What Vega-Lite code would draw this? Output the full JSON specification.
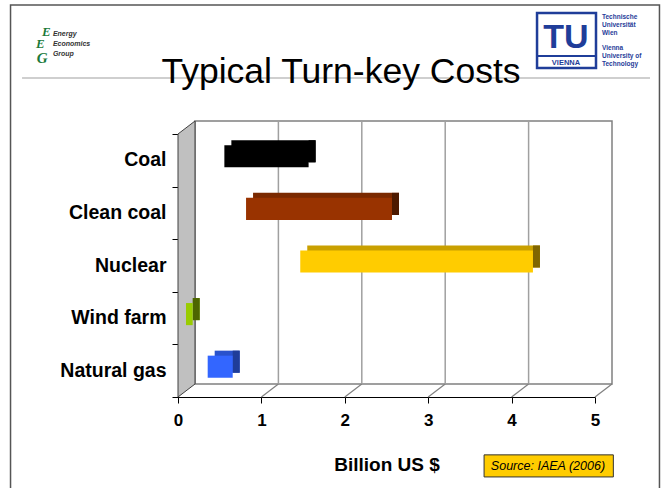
{
"$schema":"https://vega.github.io/schema/vega-lite/v6.json",
"width":417,"height":263,
"autosize":{"type":"none"},
"padding":{"left":178,"top":134,"right":71,"bottom":91},
"background":"white",
"config":{"view":{"stroke":null},"font":"Liberation Sans","axis":{"grid":false}},
"datasets":{
 "bars":[
   {"name":"Coal","lo":0.46,"hi":1.47},
   {"name":"Clean coal","lo":0.72,"hi":2.47},
   {"name":"Nuclear","lo":1.37,"hi":4.16},
   {"name":"Wind farm","lo":0,"hi":0.08},
   {"name":"Natural gas","lo":0.26,"hi":0.56}],
 "one":[{}]
},
"data":{"name":"one"},
"resolve":{"scale":{"y":"independent","color":"independent"},"axis":{"y":"independent"}},
"layer":[
  {"mark":{"type":"rect","fill":"white","stroke":"#808080","strokeWidth":1.5,"xOffset":17,"x2Offset":17,"yOffset":-13,"y2Offset":-13},
   "encoding":{
    "x":{"datum":0,"type":"quantitative","scale":{"domain":[0,5],"nice":false,"zero":false},
      "axis":{"values":[0,1,2,3,4,5],"format":"d","tickSize":6,"tickColor":"black","domainColor":"black","labelFontSize":17,"labelFontWeight":"bold","labelColor":"black","labelPadding":9,"labelFlush":false,"title":"Billion US $","titleFontSize":19,"titleFontWeight":"bold","titleColor":"black","titlePadding":27,"grid":false,"orient":"bottom"}},
    "x2":{"datum":5},
    "y":{"datum":0,"type":"quantitative","scale":{"domain":[0,5],"nice":false,"zero":false},"axis":null},
    "y2":{"datum":5}}},
  {"data":{"values":[{"x":0,"y":0,"y2":5},{"x":0.204,"y":0.247,"y2":5.247}]},
   "mark":{"type":"area","fill":"#c0c0c0","stroke":"#404040","strokeWidth":1},
   "encoding":{"x":{"field":"x","type":"quantitative","scale":{"domain":[0,5],"nice":false,"zero":false}},
    "y":{"field":"y","type":"quantitative","scale":{"domain":[0,5],"nice":false,"zero":false},
      "axis":{"orient":"left","values":[0,1,2,3,4,5],"labels":false,"tickSize":6,"tickColor":"black","domainColor":"black","title":null,"grid":false}},
    "y2":{"field":"y2"}}},
  {"data":{"values":[{"v":1},{"v":2},{"v":3},{"v":4}]},
   "mark":{"type":"rule","color":"#a0a0a0","strokeWidth":1.5,"xOffset":17,"yOffset":-13,"y2Offset":-13},
   "encoding":{"x":{"field":"v","type":"quantitative","scale":{"domain":[0,5],"nice":false,"zero":false}},
    "y":{"datum":0,"type":"quantitative","scale":{"domain":[0,5],"nice":false,"zero":false},"axis":null},
    "y2":{"datum":5}}},
  {"data":{"values":[{"v":1},{"v":2},{"v":3},{"v":4},{"v":5}]},
   "mark":{"type":"rule","color":"#808080","strokeWidth":1.2,"x2Offset":17,"y2Offset":-13},
   "encoding":{"x":{"field":"v","type":"quantitative","scale":{"domain":[0,5],"nice":false,"zero":false}},
    "x2":{"field":"v"},
    "y":{"datum":0,"type":"quantitative","scale":{"domain":[0,5],"nice":false,"zero":false},"axis":null},
    "y2":{"datum":0}}},
  {"mark":{"type":"rule","color":"#a0a0a0","strokeWidth":1.2},
   "encoding":{"x":{"datum":-1.87,"type":"quantitative","scale":{"domain":[0,5],"nice":false,"zero":false}},
    "x2":{"datum":5.66},
    "y":{"datum":6.065,"type":"quantitative","scale":{"domain":[0,5],"nice":false,"zero":false},"axis":null}}},
  {"mark":{"type":"rect","fillOpacity":0,"stroke":"#555555","strokeWidth":1.5},
   "encoding":{"x":{"datum":-2.008,"type":"quantitative","scale":{"domain":[0,5],"nice":false,"zero":false}},
    "x2":{"datum":5.773},
    "y":{"datum":7.452,"type":"quantitative","scale":{"domain":[0,5],"nice":false,"zero":false},"axis":null},
    "y2":{"datum":-1.9}}},
  {"mark":{"type":"text","text":"Typical Turn-key Costs","fontSize":35.5,"align":"center","baseline":"alphabetic","color":"black"},
   "encoding":{"x":{"datum":1.954,"type":"quantitative","scale":{"domain":[0,5],"nice":false,"zero":false}},
    "y":{"datum":5.97,"type":"quantitative","scale":{"domain":[0,5],"nice":false,"zero":false},"axis":null}}},
  {"mark":{"type":"rect","fill":"#ffcc00","stroke":"#333333","strokeWidth":1},
   "encoding":{"x":{"datum":3.67,"type":"quantitative","scale":{"domain":[0,5],"nice":false,"zero":false}},
    "x2":{"datum":5.22},
    "y":{"datum":-1.10,"type":"quantitative","scale":{"domain":[0,5],"nice":false,"zero":false},"axis":null},
    "y2":{"datum":-1.52}}},
  {"mark":{"type":"text","text":"Source: IAEA (2006)","fontSize":12.5,"fontStyle":"italic","align":"center","baseline":"middle","color":"black"},
   "encoding":{"x":{"datum":4.436,"type":"quantitative","scale":{"domain":[0,5],"nice":false,"zero":false}},
    "y":{"datum":-1.312,"type":"quantitative","scale":{"domain":[0,5],"nice":false,"zero":false},"axis":null}}},
  {"mark":{"type":"rect","fillOpacity":0,"stroke":"#1f3d99","strokeWidth":2.5},
   "encoding":{"x":{"datum":4.305,"type":"quantitative","scale":{"domain":[0,5],"nice":false,"zero":false}},
    "x2":{"datum":5.012},
    "y":{"datum":7.30,"type":"quantitative","scale":{"domain":[0,5],"nice":false,"zero":false},"axis":null},
    "y2":{"datum":6.255}}},
  {"mark":{"type":"rule","color":"#1f3d99","strokeWidth":2},
   "encoding":{"x":{"datum":4.305,"type":"quantitative","scale":{"domain":[0,5],"nice":false,"zero":false}},
    "x2":{"datum":5.012},
    "y":{"datum":6.483,"type":"quantitative","scale":{"domain":[0,5],"nice":false,"zero":false},"axis":null}}},
  {"mark":{"type":"text","text":"TU","fontSize":34,"fontWeight":"bold","align":"center","baseline":"alphabetic","color":"#1f3d99"},
   "encoding":{"x":{"datum":4.652,"type":"quantitative","scale":{"domain":[0,5],"nice":false,"zero":false}},
    "y":{"datum":6.635,"type":"quantitative","scale":{"domain":[0,5],"nice":false,"zero":false},"axis":null}}},
  {"mark":{"type":"text","text":"VIENNA","fontSize":7.5,"fontWeight":"bold","align":"center","baseline":"alphabetic","color":"#1f3d99"},
   "encoding":{"x":{"datum":4.652,"type":"quantitative","scale":{"domain":[0,5],"nice":false,"zero":false}},
    "y":{"datum":6.312,"type":"quantitative","scale":{"domain":[0,5],"nice":false,"zero":false},"axis":null}}},
  {"mark":{"type":"text","text":["Technische","Universität","Wien"],"lineHeight":8,"fontSize":6.5,"fontWeight":"bold","align":"left","baseline":"alphabetic","color":"#1f3d99"},
   "encoding":{"x":{"datum":5.084,"type":"quantitative","scale":{"domain":[0,5],"nice":false,"zero":false}},
    "y":{"datum":7.186,"type":"quantitative","scale":{"domain":[0,5],"nice":false,"zero":false},"axis":null}}},
  {"mark":{"type":"text","text":["Vienna","University of","Technology"],"lineHeight":8,"fontSize":6.5,"fontWeight":"bold","align":"left","baseline":"alphabetic","color":"#1f3d99"},
   "encoding":{"x":{"datum":5.084,"type":"quantitative","scale":{"domain":[0,5],"nice":false,"zero":false}},
    "y":{"datum":6.597,"type":"quantitative","scale":{"domain":[0,5],"nice":false,"zero":false},"axis":null}}},
  {"mark":{"type":"text","text":"E","fontSize":13,"font":"Liberation Serif","fontWeight":"bold","fontStyle":"italic","align":"center","baseline":"alphabetic","color":"#1a7a3a"},
   "encoding":{"x":{"datum":-1.58,"type":"quantitative","scale":{"domain":[0,5],"nice":false,"zero":false}},
    "y":{"datum":6.863,"type":"quantitative","scale":{"domain":[0,5],"nice":false,"zero":false},"axis":null}}},
  {"mark":{"type":"text","text":"E","fontSize":13,"font":"Liberation Serif","fontWeight":"bold","fontStyle":"italic","align":"center","baseline":"alphabetic","color":"#1a7a3a"},
   "encoding":{"x":{"datum":-1.65,"type":"quantitative","scale":{"domain":[0,5],"nice":false,"zero":false}},
    "y":{"datum":6.635,"type":"quantitative","scale":{"domain":[0,5],"nice":false,"zero":false},"axis":null}}},
  {"mark":{"type":"text","text":"G","fontSize":15,"font":"Liberation Serif","fontWeight":"bold","fontStyle":"italic","align":"center","baseline":"alphabetic","color":"#1a7a3a"},
   "encoding":{"x":{"datum":-1.63,"type":"quantitative","scale":{"domain":[0,5],"nice":false,"zero":false}},
    "y":{"datum":6.35,"type":"quantitative","scale":{"domain":[0,5],"nice":false,"zero":false},"axis":null}}},
  {"mark":{"type":"text","text":["Energy","Economics","Group"],"lineHeight":10,"fontSize":7,"fontWeight":"bold","fontStyle":"italic","align":"left","baseline":"alphabetic","color":"#333333"},
   "encoding":{"x":{"datum":-1.50,"type":"quantitative","scale":{"domain":[0,5],"nice":false,"zero":false}},
    "y":{"datum":6.863,"type":"quantitative","scale":{"domain":[0,5],"nice":false,"zero":false},"axis":null}}},
  {"data":{"name":"bars"},
   "mark":{"type":"bar","xOffset":15,"x2Offset":15,"yOffset":-9},
   "encoding":{"x":{"field":"lo","type":"quantitative","scale":{"domain":[0,5],"nice":false,"zero":false}},
     "x2":{"field":"hi"},
     "y":{"field":"name","type":"nominal","sort":["Coal","Clean coal","Nuclear","Wind farm","Natural gas"],"scale":{"paddingInner":0.58,"paddingOuter":0.29},"axis":null},
     "color":{"field":"name","type":"nominal","scale":{"domain":["Coal","Clean coal","Nuclear","Wind farm","Natural gas"],"range":["#000000","#7a2900","#c9a000","#7aa300","#2952cc"]},"legend":null}}},
  {"data":{"name":"bars"},
   "mark":{"type":"bar","xOffset":8,"x2Offset":15,"yOffset":-9},
   "encoding":{"x":{"field":"hi","type":"quantitative","scale":{"domain":[0,5],"nice":false,"zero":false}},
     "x2":{"field":"hi"},
     "y":{"field":"name","type":"nominal","sort":["Coal","Clean coal","Nuclear","Wind farm","Natural gas"],"scale":{"paddingInner":0.58,"paddingOuter":0.29},"axis":null},
     "color":{"field":"name","type":"nominal","scale":{"domain":["Coal","Clean coal","Nuclear","Wind farm","Natural gas"],"range":["#000000","#4d1a00","#806600","#4d6600","#1f3d99"]},"legend":null}}},
  {"data":{"name":"bars"},
   "mark":{"type":"bar","xOffset":8,"x2Offset":8,"yOffset":-4},
   "encoding":{"x":{"field":"lo","type":"quantitative","scale":{"domain":[0,5],"nice":false,"zero":false}},
     "x2":{"field":"hi"},
     "y":{"field":"name","type":"nominal","sort":["Coal","Clean coal","Nuclear","Wind farm","Natural gas"],"scale":{"paddingInner":0.58,"paddingOuter":0.29},
       "axis":{"orient":"left","ticks":false,"domain":false,"labelPadding":12,"labelFontSize":19.5,"labelFontWeight":"bold","labelColor":"black","title":null}},
     "color":{"field":"name","type":"nominal","scale":{"domain":["Coal","Clean coal","Nuclear","Wind farm","Natural gas"],"range":["#000000","#993300","#ffcc00","#99cc00","#3366ff"]},"legend":null}}}
]
}
